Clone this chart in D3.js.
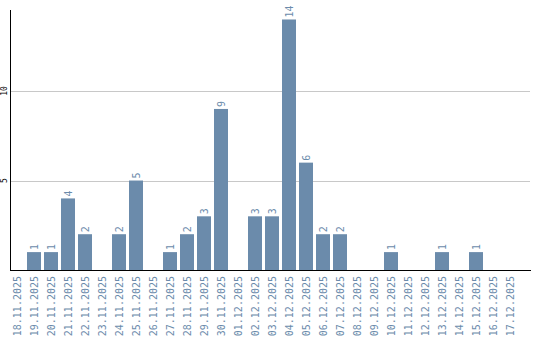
<!DOCTYPE html>
<html>
<head>
<meta charset="utf-8">
<script src="https://cdn.jsdelivr.net/npm/d3@7"></script>
<style>
  body { margin: 0; background: #fff; }
  svg { display: block; }
</style>
</head>
<body>
<div id="chart"></div>
<script>
const days = ["18.11.2025", "19.11.2025", "20.11.2025", "21.11.2025", "22.11.2025",
  "23.11.2025", "24.11.2025", "25.11.2025", "26.11.2025", "27.11.2025", "28.11.2025",
  "29.11.2025", "30.11.2025", "01.12.2025", "02.12.2025", "03.12.2025", "04.12.2025",
  "05.12.2025", "06.12.2025", "07.12.2025", "08.12.2025", "09.12.2025", "10.12.2025",
  "11.12.2025", "12.12.2025", "13.12.2025", "14.12.2025", "15.12.2025", "16.12.2025",
  "17.12.2025"];
const counts = [0, 1, 1, 4, 2, 0, 2, 5, 0, 1, 2, 3, 9, 0, 3, 3, 14, 6, 2, 2, 0, 0, 1, 0, 0, 1, 0, 1, 0, 0];
const yTicks = [5, 10];

const w = 540, h = 340;
const plot = { left: 10, right: 530, top: 10, base: 270 };
const barColor = "#6b8bab";

const data = days.map((d, i) => ({ day: d, count: counts[i] }));

const x = d3.scaleBand()
  .domain(days)
  .range([plot.left, plot.left + 17 * days.length])
  .paddingInner(3 / 17)
  .paddingOuter(1.5 / 17)
  .align(0);

const y = d3.scaleLinear()
  .domain([0, 14.53])
  .range([plot.base, plot.top]);

const svg = d3.select("#chart").append("svg")
  .attr("width", w)
  .attr("height", h);

// gridlines
svg.append("g")
  .selectAll("line")
  .data(yTicks)
  .enter()
  .append("line")
  .attr("x1", plot.left)
  .attr("x2", plot.right)
  .attr("y1", d => Math.round(y(d)) + 0.5)
  .attr("y2", d => Math.round(y(d)) + 0.5)
  .attr("stroke", "#c8c8c8")
  .attr("stroke-width", 1);

// y tick labels (rotated)
svg.append("g")
  .selectAll("text")
  .data(yTicks)
  .enter()
  .append("text")
  .attr("transform", d => `translate(7, ${y(d)}) rotate(-90)`)
  .attr("text-anchor", "middle")
  .attr("font-family", "DejaVu Sans Mono, monospace")
  .attr("font-size", "8px")
  .attr("fill", "#000")
  .text(d => d);

// bars
svg.append("g")
  .selectAll("rect")
  .data(data.filter(d => d.count > 0))
  .enter()
  .append("rect")
  .attr("x", d => x(d.day))
  .attr("y", d => y(d.count))
  .attr("width", x.bandwidth())
  .attr("height", d => plot.base - y(d.count))
  .attr("fill", barColor);

// value labels
svg.append("g")
  .selectAll("text")
  .data(data.filter(d => d.count > 0))
  .enter()
  .append("text")
  .attr("transform", d => `translate(${x(d.day) + x.bandwidth() / 2 + 4}, ${y(d.count) - 2}) rotate(-90)`)
  .attr("text-anchor", "start")
  .attr("font-family", "DejaVu Sans Mono, monospace")
  .attr("font-size", "10px")
  .attr("fill", barColor)
  .text(d => d.count);

// x category labels
svg.append("g")
  .selectAll("text")
  .data(data)
  .enter()
  .append("text")
  .attr("transform", d => `translate(${x(d.day) + x.bandwidth() / 2 + 4}, ${plot.base + 6}) rotate(-90)`)
  .attr("text-anchor", "end")
  .attr("font-family", "DejaVu Sans Mono, monospace")
  .attr("font-size", "10px")
  .attr("fill", barColor)
  .text(d => d.day);

// axis lines
svg.append("line")
  .attr("x1", plot.left + 0.5).attr("x2", plot.left + 0.5)
  .attr("y1", plot.top).attr("y2", plot.base + 1)
  .attr("stroke", "#000");
svg.append("line")
  .attr("x1", plot.left).attr("x2", plot.right + 1)
  .attr("y1", plot.base + 0.5).attr("y2", plot.base + 0.5)
  .attr("stroke", "#000");
</script>
</body>
</html>
